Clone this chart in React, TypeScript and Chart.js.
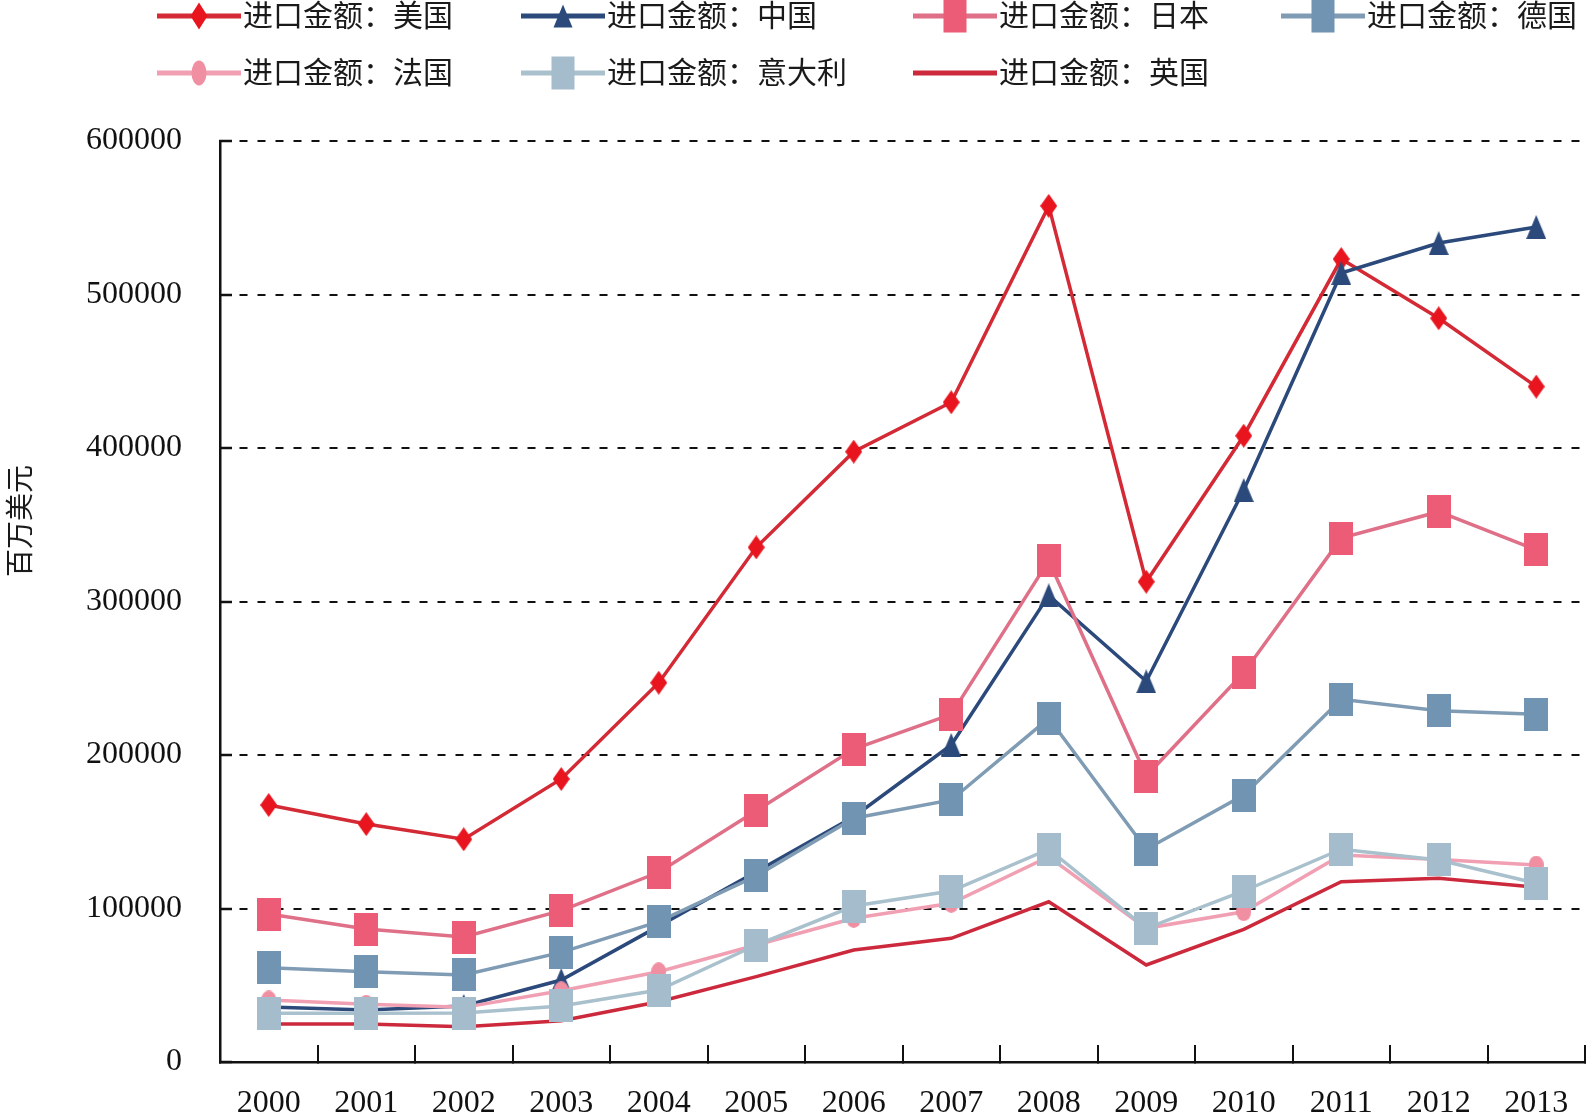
import React, { useEffect, useRef } from "react";
import { Chart, registerables } from "chart.js";

Chart.register(...registerables);

// ---------- data (百万美元) ----------
const years = ["2000", "2001", "2002", "2003", "2004", "2005", "2006", "2007", "2008", "2009", "2010", "2011", "2012", "2013"];
const usImports = [167400, 155000, 145100, 184400, 247100, 335300, 397600, 429800, 557700, 312900, 408000, 523100, 484500, 440000];
const chinaImports = [35800, 33900, 36500, 53400, 88500, 124000, 159800, 206500, 304000, 248000, 372600, 514000, 533500, 544000];
const japanImports = [96400, 86600, 81400, 98600, 123600, 163700, 203900, 226500, 326600, 186300, 253600, 341300, 358500, 333600];
const germanyImports = [61400, 58800, 56700, 71400, 91400, 121200, 158800, 170700, 223900, 138600, 173900, 236300, 228900, 226500];
const franceImports = [40400, 37600, 35600, 46400, 58800, 76200, 93600, 103400, 133700, 87100, 97900, 134900, 132000, 128300];
const italyImports = [31700, 31700, 31900, 36500, 46900, 76200, 101600, 111400, 138600, 87100, 111400, 138600, 131600, 116400];
const ukImports = [24800, 24800, 23000, 26900, 39300, 55600, 73000, 80600, 104400, 63200, 86400, 117500, 119700, 113800];

const seriesLabels = ["进口金额：美国", "进口金额：中国", "进口金额：日本", "进口金额：德国", "进口金额：法国", "进口金额：意大利", "进口金额：英国"];
const yTitle = "百万美元";
const yMin = 0;
const yMax = 600000;
const yStep = 100000;

type Shape = "diamond" | "triangle" | "rect" | "ellipse" | "none";

interface SeriesStyle {
  shape: Shape;
  lineColor: string;
  markerColor: string;
  mw: number;
  mh: number;
  lw: number;
  order: number;
}

const styles: SeriesStyle[] = [
  { shape: "diamond", lineColor: "#d42a35", markerColor: "#e8141e", mw: 17, mh: 24, lw: 3.5, order: 9 },
  { shape: "triangle", lineColor: "#2b4a7b", markerColor: "#2b4a7b", mw: 20, mh: 24, lw: 3.5, order: 8 },
  { shape: "rect", lineColor: "#df7088", markerColor: "#ec5c76", mw: 24, mh: 33, lw: 3.5, order: 7 },
  { shape: "rect", lineColor: "#7f9cb4", markerColor: "#7194b3", mw: 24, mh: 33, lw: 3.5, order: 6 },
  { shape: "ellipse", lineColor: "#f0a0b2", markerColor: "#f08ea2", mw: 15, mh: 19, lw: 3.5, order: 5 },
  { shape: "rect", lineColor: "#a9c0cd", markerColor: "#a5bccc", mw: 24, mh: 33, lw: 3.5, order: 4 },
  { shape: "none", lineColor: "#cc2a3c", markerColor: "#cc2a3c", mw: 0, mh: 0, lw: 3.5, order: 10 },
];

const seriesData = [usImports, chinaImports, japanImports, germanyImports, franceImports, italyImports, ukImports];

const SERIF = "'Liberation Serif', 'Times New Roman', 'Noto Sans CJK SC', serif";

function makeMarker(shape: Shape, w: number, h: number, fill: string): HTMLCanvasElement {
  const c = document.createElement("canvas");
  c.width = w;
  c.height = h;
  const ctx = c.getContext("2d")!;
  ctx.fillStyle = fill;
  ctx.beginPath();
  if (shape === "rect") {
    ctx.rect(0, 0, w, h);
  } else if (shape === "diamond") {
    ctx.moveTo(w / 2, 0);
    ctx.lineTo(w, h / 2);
    ctx.lineTo(w / 2, h);
    ctx.lineTo(0, h / 2);
    ctx.closePath();
  } else if (shape === "triangle") {
    ctx.moveTo(w / 2, 0);
    ctx.lineTo(w, h);
    ctx.lineTo(0, h);
    ctx.closePath();
  } else if (shape === "ellipse") {
    ctx.ellipse(w / 2, h / 2, w / 2, h / 2, 0, 0, Math.PI * 2);
  }
  ctx.fill();
  return c;
}

function LegendIcon({ st }: { st: SeriesStyle }) {
  const W = 84;
  const H = 36;
  const cx = W / 2;
  const cy = H / 2;
  let marker: React.ReactNode = null;
  const legendSizes: Record<string, [number, number]> = {
    diamond: [17, 27],
    triangle: [19, 23],
    rect: [23, 33],
    ellipse: [15, 25],
  };
  if (st.shape !== "none") {
    const [w, h] = legendSizes[st.shape];
    if (st.shape === "rect") {
      marker = <rect x={cx - w / 2} y={cy - h / 2} width={w} height={h} fill={st.markerColor} />;
    } else if (st.shape === "diamond") {
      marker = (
        <polygon
          points={`${cx},${cy - h / 2} ${cx + w / 2},${cy} ${cx},${cy + h / 2} ${cx - w / 2},${cy}`}
          fill={st.markerColor}
        />
      );
    } else if (st.shape === "triangle") {
      marker = (
        <polygon
          points={`${cx},${cy - h / 2} ${cx + w / 2},${cy + h / 2} ${cx - w / 2},${cy + h / 2}`}
          fill={st.markerColor}
        />
      );
    } else if (st.shape === "ellipse") {
      marker = <ellipse cx={cx} cy={cy} rx={w / 2} ry={h / 2} fill={st.markerColor} />;
    }
  }
  return (
    <svg width={W} height={H} style={{ display: "block", flex: "none" }}>
      <line x1={0} y1={cy} x2={W} y2={cy} stroke={st.lineColor} strokeWidth={5} />
      {marker}
    </svg>
  );
}

const legendPos: [number, number][] = [
  [157, 16],
  [521, 16],
  [913, 16],
  [1281, 16],
  [157, 73],
  [521, 73],
  [913, 73],
];

export default function App() {
  const canvasRef = useRef<HTMLCanvasElement | null>(null);

  useEffect(() => {
    document.body.style.margin = "0";
    const canvas = canvasRef.current;
    if (!canvas) return;

    const datasets = seriesLabels.map((label, i) => {
      const st = styles[i];
      const hasMarker = st.shape !== "none";
      return {
        label,
        data: seriesData[i],
        borderColor: st.lineColor,
        backgroundColor: st.markerColor,
        borderWidth: st.lw,
        pointStyle: hasMarker ? (makeMarker(st.shape, st.mw, st.mh, st.markerColor) as any) : ("circle" as any),
        pointRadius: hasMarker ? 8 : 0,
        pointHoverRadius: hasMarker ? 8 : 0,
        tension: 0,
        fill: false,
        order: st.order,
      };
    });

    const chart = new Chart(canvas, {
      type: "line",
      data: { labels: years, datasets },
      options: {
        responsive: false,
        animation: false,
        events: [],
        layout: { autoPadding: false, padding: { top: 141, right: 1, left: 0, bottom: 0 } },
        plugins: {
          legend: { display: false },
          tooltip: { enabled: false },
          title: { display: false },
        },
        scales: {
          x: {
            offset: true,
            grid: {
              offset: true,
              drawOnChartArea: false,
              drawTicks: true,
              tickLength: -17,
              tickColor: "#111",
              tickWidth: 2,
              lineWidth: 2,
              color: "#111",
            },
            border: { display: true, color: "#111", width: 2.5 },
            ticks: {
              color: "#111",
              font: { family: SERIF, size: 32 },
              padding: 39,
              maxRotation: 0,
              autoSkip: false,
            },
            afterFit: (s: any) => {
              s.height = 52;
              s.paddingTop = 0;
              s.paddingBottom = 0;
              s.paddingLeft = 0;
              s.paddingRight = 0;
            },
          },
          y: {
            min: yMin,
            max: yMax,
            ticks: {
              stepSize: yStep,
              color: "#111",
              font: { family: SERIF, size: 32 },
              padding: 50,
              callback: (v: any) => String(v),
            },
            grid: {
              color: "#111",
              lineWidth: 2,
              drawTicks: true,
              tickLength: -12,
              tickColor: "#111",
              tickWidth: 2.5,
              tickBorderDash: [],
            },
            border: { display: true, color: "#111", width: 2.5, dash: [8, 10] },
            afterFit: (s: any) => {
              s.width = 220;
              s.paddingTop = 0;
              s.paddingBottom = 0;
              s.paddingLeft = 0;
              s.paddingRight = 0;
            },
          },
        },
      },
    });

    return () => {
      chart.destroy();
    };
  }, []);

  return (
    <div style={{ position: "relative", width: 1586, height: 1114, background: "#fff", overflow: "hidden" }}>
      <canvas ref={canvasRef} width={1586} height={1114} style={{ position: "absolute", left: 0, top: 0 }} />
      {seriesLabels.map((label, i) => (
        <div
          key={label}
          style={{
            position: "absolute",
            left: legendPos[i][0],
            top: legendPos[i][1] - 18,
            height: 36,
            display: "flex",
            alignItems: "center",
            whiteSpace: "nowrap",
            fontFamily: SERIF,
            fontSize: 30,
            lineHeight: "36px",
            color: "#1a1a1a",
          }}
        >
          <LegendIcon st={styles[i]} />
          <span style={{ marginLeft: 2 }}>{label}</span>
        </div>
      ))}
      <div
        style={{
          position: "absolute",
          left: 21,
          top: 521,
          transform: "translate(-50%, -50%) rotate(-90deg)",
          whiteSpace: "nowrap",
          fontFamily: SERIF,
          fontSize: 28,
          lineHeight: "32px",
          color: "#1a1a1a",
        }}
      >
        {yTitle}
      </div>
    </div>
  );
}
